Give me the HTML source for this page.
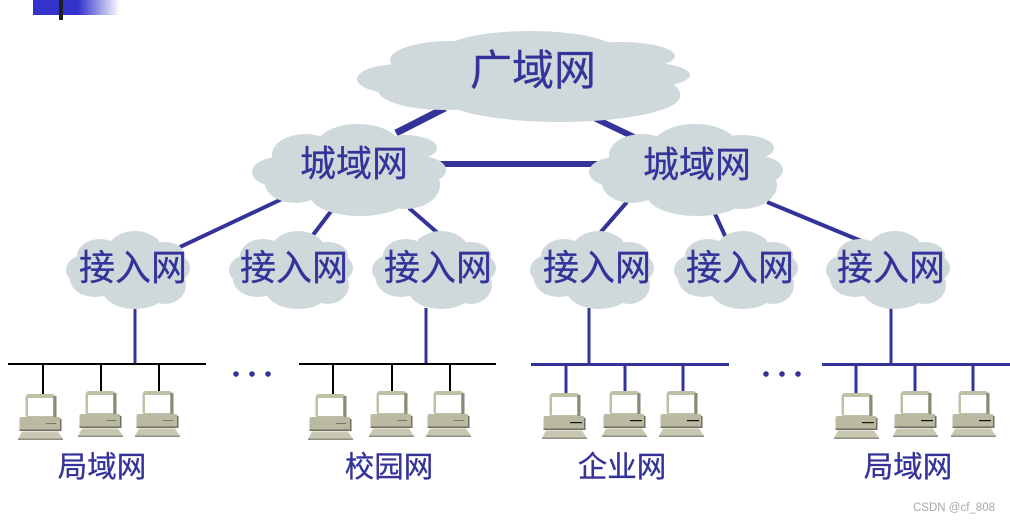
<!DOCTYPE html>
<html><head><meta charset="utf-8"><style>
html,body{margin:0;padding:0;background:#fff;width:1010px;height:522px;overflow:hidden}
svg{display:block}
text{font-family:"Liberation Sans","Noto Sans CJK SC",sans-serif;fill:#333399;stroke:#333399;stroke-width:.3;text-anchor:middle}
</style></head><body>
<svg width="1010" height="522" viewBox="0 0 1010 522" xmlns="http://www.w3.org/2000/svg">
<defs>
<linearGradient id="g" x1="0" x2="1" y1="0" y2="0"><stop offset="0" stop-color="#3333cc"/><stop offset="0.52" stop-color="#3333cc"/><stop offset="1" stop-color="#3333cc" stop-opacity="0"/></linearGradient>
<g id="ac" fill="#cfd9db">
<ellipse cx="85" cy="270" rx="19" ry="15"/><ellipse cx="100" cy="256" rx="23" ry="17"/><ellipse cx="135" cy="252" rx="28" ry="21"/><ellipse cx="165" cy="256" rx="20" ry="14"/><ellipse cx="173" cy="268" rx="17" ry="14"/><ellipse cx="165" cy="285" rx="21" ry="19"/><ellipse cx="135" cy="289" rx="33" ry="20"/><ellipse cx="95" cy="279" rx="25" ry="18"/><ellipse cx="130" cy="270" rx="40" ry="22"/>
</g>
<g id="city" fill="#cfd9db">
<ellipse cx="280" cy="172" rx="28" ry="15"/><ellipse cx="305" cy="155" rx="33" ry="21"/><ellipse cx="358" cy="146" rx="42" ry="22"/><ellipse cx="405" cy="148" rx="32" ry="13"/><ellipse cx="420" cy="170" rx="26" ry="14"/><ellipse cx="405" cy="185" rx="35" ry="24"/><ellipse cx="360" cy="195" rx="50" ry="21"/><ellipse cx="295" cy="183" rx="30" ry="20"/><ellipse cx="350" cy="170" rx="70" ry="28"/>
</g>
<g id="pc">
<rect x="-15.500" y="0" width="30" height="24" rx="3.500" fill="#c0c0a6"/>
<rect x="12.500" y="2" width="3" height="22" fill="#8a8a76"/>
<rect x="-13" y="4" width="25" height="18" fill="#fff"/>
<rect x="-21.500" y="23" width="41" height="14" rx="2" fill="#babaa2"/>
<rect x="-21.500" y="35.500" width="41" height="1.500" fill="#6f6f60"/>
<rect x="19" y="25" width="1.500" height="12" fill="#6f6f60"/>
<rect x="5" y="29" width="10" height="1" fill="#77776a"/>
<path d="M-19 37.500H17L22 45H-23Z" fill="#c8c8b2"/>
<rect x="-23" y="44.500" width="45" height="1.500" fill="#8f8f84"/>
</g>
<g id="pcb">
<use href="#pc"/><rect x="5" y="29" width="12" height="1.200" fill="#111"/>
</g>
</defs>
<rect x="33" y="0" width="87" height="15" fill="url(#g)"/>
<rect x="59" y="0" width="4" height="20" fill="#1e1e1e"/>
<g stroke="#333399" fill="none">
<path d="M396 133L445 108" stroke-width="7"/>
<path d="M590 116L636 138" stroke-width="6"/>
<path d="M440 164H612" stroke-width="6"/>
<path d="M180 247L282 199M313 235L332 210M409 208L440 235M600 233L627 202M715 214L726 238M767 202L866 243" stroke-width="4"/>
<path d="M135 308V364M426 308V364M589 308V364M891 308V364" stroke-width="3"/>
<path d="M531 364.500H729M822 364.500H1010" stroke-width="3"/>
<path d="M566 364V394M625 364V392M683 364V392M856 364V394M915 364V392M973 364V392" stroke-width="3"/>
</g>
<g stroke="#000" fill="none">
<path d="M8 364H206M299 364H496" stroke-width="2"/>
<path d="M43 364V394M101 364V392M159 364V392M333 364V394M392 364V392M450 364V392" stroke-width="2"/>
</g>
<g fill="#cfd9db">
<ellipse cx="400" cy="79" rx="43" ry="15"/><ellipse cx="450" cy="60" rx="60" ry="19"/><ellipse cx="530" cy="50" rx="85" ry="19"/><ellipse cx="445" cy="90" rx="67" ry="20"/><ellipse cx="560" cy="96" rx="120" ry="26"/><ellipse cx="620" cy="56" rx="55" ry="14"/><ellipse cx="640" cy="75" rx="50" ry="13"/><ellipse cx="620" cy="94" rx="60" ry="21"/><ellipse cx="530" cy="75" rx="100" ry="30"/>
</g>
<use href="#city"/>
<use href="#city" x="337"/>
<use href="#ac"/>
<use href="#ac" x="163"/>
<use href="#ac" x="306"/>
<use href="#ac" x="464"/>
<use href="#ac" x="608"/>
<use href="#ac" x="760"/>
<use href="#pc" x="41" y="394"/>
<use href="#pc" x="101" y="391"/>
<use href="#pc" x="158" y="391"/>
<use href="#pc" x="331" y="394"/>
<use href="#pc" x="392" y="391"/>
<use href="#pc" x="449" y="391"/>
<use href="#pcb" x="565" y="393"/>
<use href="#pcb" x="625" y="391"/>
<use href="#pcb" x="682" y="391"/>
<use href="#pcb" x="857" y="393"/>
<use href="#pcb" x="916" y="391"/>
<use href="#pcb" x="974" y="391"/>
<g fill="#333399">
<circle cx="236" cy="374" r="2.800"/><circle cx="252" cy="374" r="2.800"/><circle cx="268" cy="374" r="2.800"/>
<circle cx="766" cy="374" r="2.800"/><circle cx="782" cy="374" r="2.800"/><circle cx="798" cy="374" r="2.800"/>
</g>
<text x="533" y="85" font-size="42">广域网</text>
<text x="354" y="176" font-size="36">城域网</text>
<text x="697" y="177" font-size="36">城域网</text>
<text x="133" y="280" font-size="36">接入网</text>
<text x="294" y="280" font-size="36">接入网</text>
<text x="438" y="280" font-size="36">接入网</text>
<text x="597" y="280" font-size="36">接入网</text>
<text x="740" y="280" font-size="36">接入网</text>
<text x="891" y="280" font-size="36">接入网</text>
<text x="102" y="477" font-size="29.500">局域网</text>
<text x="389" y="477" font-size="29.500">校园网</text>
<text x="622" y="477" font-size="29.500">企业网</text>
<text x="908" y="477" font-size="29.500">局域网</text>
<text x="954" y="511" font-size="11.500" style="fill:#a8a8a8;stroke:none">CSDN @cf_808</text>
</svg>
</body></html>
